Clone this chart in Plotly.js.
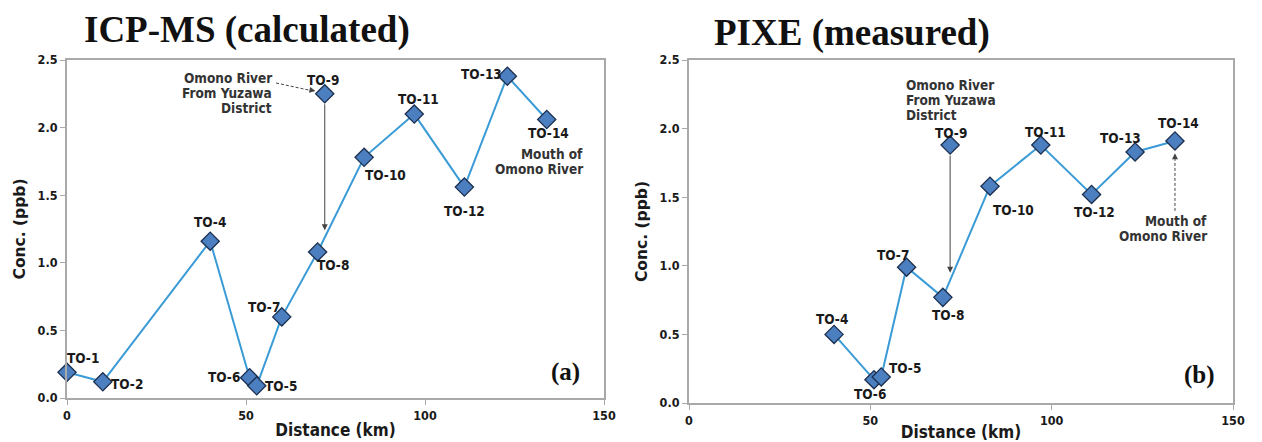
<!DOCTYPE html>
<html>
<head>
<meta charset="utf-8">
<script src="https://cdn.plot.ly/plotly-3.0.1.min.js"></script>
<style>
  html, body { margin: 0; padding: 0; background: #ffffff; }
  #chart { width: 1262px; height: 442px; }
</style>
</head>
<body>
<div id="chart"></div>
<script>
// ---- data ----
const sites    = ['TO-1', 'TO-2', 'TO-4', 'TO-6', 'TO-5', 'TO-7', 'TO-8', 'TO-9', 'TO-10', 'TO-11', 'TO-12', 'TO-13', 'TO-14'];
const distance = [0, 10, 40, 51, 53, 60, 70, 72, 83, 97, 111, 123, 134];          // km
const icpms    = [0.19, 0.12, 1.16, 0.15, 0.09, 0.60, 1.08, 2.25, 1.78, 2.10, 1.56, 2.38, 2.06]; // ppb, calculated
const pixe     = [null, null, 0.50, 0.17, 0.19, 0.99, 0.77, 1.88, 1.58, 1.88, 1.52, 1.83, 1.91]; // ppb, measured
const tributary = 'TO-9';            // Omono River from Yuzawa District (not on the main line)
const mouth     = 'TO-14';           // Mouth of Omono River
const xTicks = [0, 50, 100, 150];
const yTicks = [0.0, 0.5, 1.0, 1.5, 2.0, 2.5];
const yTickText = ['0.0', '0.5', '1.0', '1.5', '2.0', '2.5'];
const panelTitles = ['ICP-MS (calculated)', 'PIXE (measured)'];
const panelTags = ['(a)', '(b)'];
const tributaryNote = ['Omono River', 'From Yuzawa', 'District'];
const mouthNote = ['Mouth of', 'Omono River'];

// label offsets (pixels) for each site label, per panel
const labelShiftA = {
  'TO-1': [16, 14], 'TO-2': [24, -2], 'TO-4': [0, 19], 'TO-6': [-26, 1], 'TO-5': [24, 0],
  'TO-7': [-18, 10], 'TO-8': [15, -13], 'TO-9': [-2, 14], 'TO-10': [21, -18], 'TO-11': [4, 15],
  'TO-12': [0, -24], 'TO-13': [-26, 2], 'TO-14': [2, -14]
};
const labelShiftB = {
  'TO-4': [-2, 15], 'TO-6': [-4, -14], 'TO-5': [24, 9], 'TO-7': [-14, 12], 'TO-8': [5, -18],
  'TO-9': [1, 12], 'TO-10': [23, -24], 'TO-11': [5, 13], 'TO-12': [3, -18], 'TO-13': [-15, 14],
  'TO-14': [4, 18]
};

// ---- styles ----
const LINE_COLOR = '#3b9bd6';
const MARKER_FILL = '#4b7fc0';
const MARKER_EDGE = '#1d2f4f';
const FRAME = '#a9a9a9';
const TXT = '#1a1a1a';
const SANS_C = '"DejaVu Sans Condensed", "DejaVu Sans", sans-serif';
const SANS = '"DejaVu Sans", sans-serif';
const SERIF = '"Liberation Serif", "Times New Roman", serif';

function seriesTraces(values, xa, ya) {
  const lx = [], ly = [], tx = [], ty = [];
  sites.forEach((s, i) => {
    if (values[i] === null) return;
    if (s === tributary) { tx.push(distance[i]); ty.push(values[i]); }
    else { lx.push(distance[i]); ly.push(values[i]); }
  });
  const marker = { symbol: 'diamond', size: 14, color: MARKER_FILL, line: { color: MARKER_EDGE, width: 1.3 } };
  return [
    { x: lx, y: ly, xaxis: xa, yaxis: ya, type: 'scatter', mode: 'lines+markers', cliponaxis: false,
      line: { color: LINE_COLOR, width: 2 }, marker: marker, showlegend: false, hoverinfo: 'x+y' },
    { x: tx, y: ty, xaxis: xa, yaxis: ya, type: 'scatter', mode: 'markers', cliponaxis: false,
      marker: marker, showlegend: false, hoverinfo: 'x+y' }
  ];
}

const traces = [].concat(seriesTraces(icpms, 'x', 'y'), seriesTraces(pixe, 'x2', 'y2'));

const annotations = [];
const labelFont = { family: SANS_C, size: 13.5, color: TXT, weight: 'bold' };
function siteLabels(values, xa, ya, shifts) {
  sites.forEach((s, i) => {
    if (values[i] === null) return;
    const sh = shifts[s] || [0, 14];
    annotations.push({
      x: distance[i], y: values[i], xref: xa, yref: ya, text: s, showarrow: false,
      xshift: sh[0], yshift: sh[1], font: labelFont
    });
  });
}
siteLabels(icpms, 'x', 'y', labelShiftA);
siteLabels(pixe, 'x2', 'y2', labelShiftB);

const iTrib = sites.indexOf(tributary);
const iMouth = sites.indexOf(mouth);
const noteFont = { family: SANS_C, size: 13.5, color: '#333333', weight: 'bold' };

function note(lines, x, y, xa, ya, anchor) {
  lines.forEach((t, k) => {
    annotations.push({ x: x, y: y, xref: xa, yref: ya, text: t, showarrow: false, yshift: -15 * k,
      xanchor: anchor, yanchor: 'middle', font: noteFont });
  });
}

// Panel (a) notes
note(tributaryNote, 57.8, 2.367, 'x', 'y', 'right');
note(mouthNote, 144.7, 1.805, 'x', 'y', 'right');
// vertical arrow from TO-9 to the main line (a)
annotations.push({ x: distance[iTrib], y: 1.24, xref: 'x', yref: 'y', ax: distance[iTrib], ay: icpms[iTrib],
  axref: 'x', ayref: 'y', text: '', showarrow: true, arrowhead: 2, arrowsize: 1.2, arrowwidth: 1,
  arrowcolor: '#444444', startstandoff: 9 });
// head of dashed pointer (a)
annotations.push({ x: 69.4, y: 2.27, xref: 'x', yref: 'y', ax: -6, ay: -1.2, text: '', showarrow: true,
  arrowhead: 2, arrowsize: 1.2, arrowwidth: 1, arrowcolor: '#444444' });

// Panel (b) notes
note(tributaryNote, 59.3, 2.318, 'x2', 'y2', 'left');
note(mouthNote, 143.3, 1.33, 'x2', 'y2', 'right');
annotations.push({ x: distance[iTrib], y: 0.95, xref: 'x2', yref: 'y2', ax: distance[iTrib], ay: pixe[iTrib],
  axref: 'x2', ayref: 'y2', text: '', showarrow: true, arrowhead: 2, arrowsize: 1.2, arrowwidth: 1,
  arrowcolor: '#444444', startstandoff: 9 });
annotations.push({ x: distance[iMouth], y: 1.82, xref: 'x2', yref: 'y2', ax: 0, ay: 6, text: '', showarrow: true,
  arrowhead: 2, arrowsize: 1.2, arrowwidth: 1, arrowcolor: '#444444' });

// Titles and panel tags
annotations.push({ x: 0.1957, y: 0.932, xref: 'paper', yref: 'paper', text: panelTitles[0], showarrow: false,
  xanchor: 'center', yanchor: 'middle', font: { family: SERIF, size: 37, color: '#111111', weight: 'bold' } });
annotations.push({ x: 0.675, y: 0.925, xref: 'paper', yref: 'paper', text: panelTitles[1], showarrow: false,
  xanchor: 'center', yanchor: 'middle', font: { family: SERIF, size: 37, color: '#111111', weight: 'bold' } });
annotations.push({ x: 0.929, y: 0.077, xref: 'x domain', yref: 'y domain', text: panelTags[0], showarrow: false,
  xanchor: 'center', yanchor: 'middle', font: { family: SERIF, size: 25, color: '#111111', weight: 'bold' } });
annotations.push({ x: 0.939, y: 0.082, xref: 'x2 domain', yref: 'y2 domain', text: panelTags[1], showarrow: false,
  xanchor: 'center', yanchor: 'middle', font: { family: SERIF, size: 25, color: '#111111', weight: 'bold' } });

const shapes = [
  { type: 'line', xref: 'x', yref: 'y', x0: 58.4, y0: 2.33, x1: 68.0, y1: 2.275,
    line: { color: '#444444', width: 1, dash: '3px,2px' } },
  { type: 'line', xref: 'x2', yref: 'y2', x0: distance[iMouth], y0: 1.40, x1: distance[iMouth], y1: 1.78,
    line: { color: '#444444', width: 1, dash: '3px,2px' } }
];

function xAxis(domain, anchor) {
  return {
    domain: domain, anchor: anchor, range: [0, 150], tickvals: xTicks, ticktext: xTicks.map(String),
    showgrid: false, zeroline: false, showline: true, mirror: true, linecolor: FRAME, linewidth: 2,
    ticks: 'outside', ticklen: 5, tickcolor: FRAME, tickwidth: 1,
    tickfont: { family: SANS_C, size: 12.5, color: TXT, weight: 'bold' },
    title: { text: 'Distance (km)', standoff: 2, font: { family: SANS_C, size: 17, color: TXT, weight: 'bold' } },
    fixedrange: true
  };
}
function yAxis(domain, anchor) {
  return {
    domain: domain, anchor: anchor, range: [0, 2.5], tickvals: yTicks, ticktext: yTickText,
    showgrid: false, zeroline: false, showline: true, mirror: true, linecolor: FRAME, linewidth: 2,
    ticks: 'outside', ticklen: 5, tickcolor: FRAME, tickwidth: 1,
    tickfont: { family: SANS_C, size: 12.5, color: TXT, weight: 'bold' },
    title: { text: 'Conc. (ppb)', standoff: 8, font: { family: SANS, size: 15.5, color: TXT, weight: 'bold' } },
    fixedrange: true
  };
}

const layout = {
  width: 1262, height: 442,
  margin: { l: 0, r: 0, t: 0, b: 0 },
  paper_bgcolor: '#ffffff', plot_bgcolor: '#ffffff',
  showlegend: false,
  xaxis: xAxis([67 / 1262, 604 / 1262], 'y'),
  yaxis: yAxis([44 / 442, 382 / 442], 'x'),
  xaxis2: xAxis([689 / 1262, 1233 / 1262], 'y2'),
  yaxis2: yAxis([39 / 442, 382 / 442], 'x2'),
  annotations: annotations,
  shapes: shapes
};

Plotly.newPlot('chart', traces, layout, { displayModeBar: false, staticPlot: true });
</script>
</body>
</html>
